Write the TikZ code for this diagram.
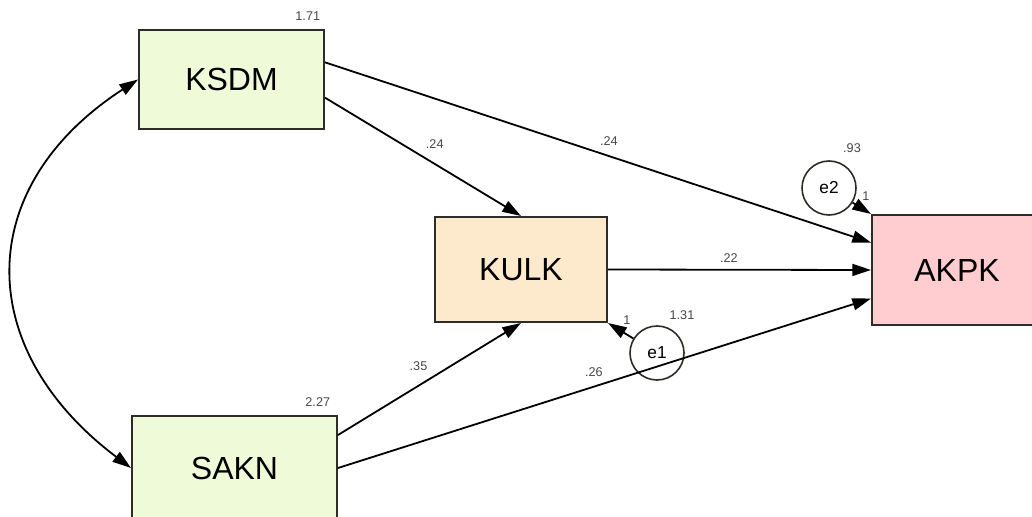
\documentclass[tikz,border=0pt]{standalone}
\usepackage{fontspec}
\setmainfont{Liberation Sans}
\usetikzlibrary{arrows.meta,calc}

\definecolor{exogreen}{RGB}{238,250,216}
\definecolor{medorange}{RGB}{253,234,204}
\definecolor{endopink}{RGB}{255,205,207}
\definecolor{boxline}{RGB}{45,45,40}
\definecolor{estgray}{RGB}{70,70,70}

\begin{document}
\begin{tikzpicture}[x=0.75pt, y=0.75pt, >={Triangle[length=14pt,width=9pt]}, line width=1.35pt,
    var/.style={draw=boxline, line width=1.5pt, inner sep=0pt, font=\fontsize{24}{24}\selectfont},
    err/.style={draw=boxline, circle, line width=1.2pt, minimum size=40.5pt, inner sep=0pt, font=\fontsize{13}{13}\selectfont},
    est/.style={text=estgray, inner sep=0pt, font=\fontsize{9.5}{9.5}\selectfont},
    coef/.style={est, anchor=south}]
    \useasboundingbox (0,0) rectangle (1032,-517);

    % 观测变量
    \node[var, fill=exogreen, minimum width=138.75pt, minimum height=74.25pt] (ksdm) at (231.5,-79.5) {KSDM};
    \node[var, fill=exogreen, minimum width=153.75pt, minimum height=78pt] (sakn) at (234.5,-468) {SAKN};
    \node[var, fill=medorange, minimum width=129pt, minimum height=78.75pt] (kulk) at (521,-269.5) {KULK};
    \node[var, fill=endopink, minimum width=127.5pt, minimum height=82.5pt] (akpk) at (957,-270) {AKPK};

    % 误差项
    \node[err] (e2) at (829,-188) {e2};
    \node[err] (e1) at (657,-353) {e1};

    % 路径系数
    \draw[->] ($(ksdm.north east)!.68!(ksdm.south east)$) -- (kulk.north)
        node[coef, pos=.56, yshift=11pt] (p1) {.24};
    \draw[->] ($(ksdm.north east)!.33!(ksdm.south east)$) -- ($(akpk.north west)!.255!(akpk.south west)$)
        node[coef, pos=.52, yshift=7.5pt] (p2) {.24};
    \draw[->] (kulk.east) -- (akpk.west)
        node[coef, pos=.46, yshift=5pt] (p3) {.22};
    \draw[->] ($(sakn.north east)+(0,-20)$) -- (kulk.south)
        node[coef, pos=.44, yshift=10.5pt] (p4) {.35};
    \draw[->] (sakn.east) -- ($(akpk.north west)!.755!(akpk.south west)$)
        node[coef, pos=.48, yshift=7pt] (p5) {.26};

    % 误差到变量
    \draw[->] (e2) -- (akpk.north west);
    \draw[->] (e1) -- (kulk.south east);
    \node[est] (w2) at ($(akpk.north west)+(-5,18)$) {1};
    \node[est] (w1) at ($(kulk.south east)+(19,3)$) {1};

    % 方差
    \node[est, anchor=south east] (v1) at ($(ksdm.north east)+(-4,8)$) {1.71};
    \node[est, anchor=south east] (v2) at ($(sakn.north east)+(-7,8)$) {2.27};
    \node[est] (v3) at ($(e2)+(23,40)$) {.93};
    \node[est] (v4) at ($(e1)+(25,38)$) {1.31};

    % 协方差
    \draw[<->] (ksdm.west) to[out=213, in=143, looseness=1.3] (sakn.west);
\end{tikzpicture}
\end{document}
